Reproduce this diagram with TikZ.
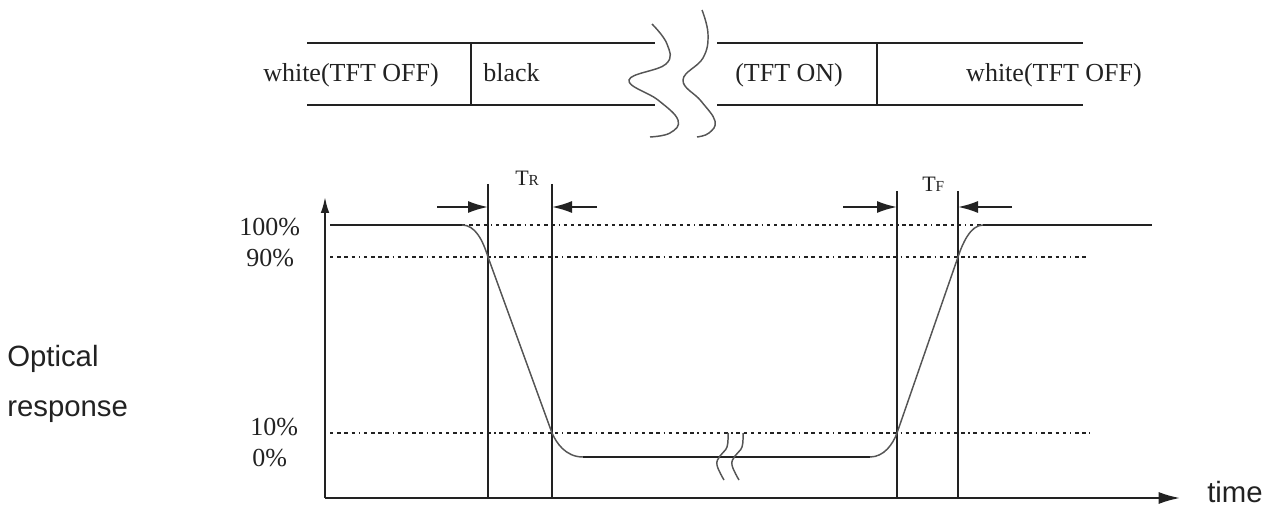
\documentclass[tikz,border=0pt]{standalone}
\usepackage{fontspec}
\setmainfont{Liberation Serif}
\newfontfamily\arialf{Liberation Sans}
\usetikzlibrary{arrows.meta}
\definecolor{ink}{HTML}{222222}
\definecolor{crv}{HTML}{555555}
\tikzset{
  lbl/.style={inner sep=0pt, text=ink, font=\fontsize{19.5pt}{22pt}\selectfont},
  slbl/.style={inner sep=0pt, text=ink, font=\arialf\fontsize{22pt}{25pt}\selectfont},
  bar/.style={draw=ink, line width=1.4pt},
  curve/.style={draw=crv, line width=1.1pt},
  lvl/.style={draw=ink, line width=1.3pt, dash pattern=on 2.6pt off 2.8pt on 2.6pt off 2.8pt on 2.6pt off 2.8pt on 2.6pt off 2.8pt on 1pt off 2.8pt},
  wavy/.style={draw=crv, line width=1.1pt},
  span/.style={draw=ink, line width=1.4pt, -{Latex[length=15pt,width=9pt]}},
}
\begin{document}
\begin{tikzpicture}[x=0.75pt, y=-0.75pt]
\useasboundingbox (0,0) rectangle (1275,506);
% ---------- top state bar ----------
\draw[bar] (307,43) -- (655,43);
\draw[bar] (307,105) -- (655,105);
\draw[bar] (717,43) -- (1083,43);
\draw[bar] (717,105) -- (1083,105);
\draw[bar] (471,43) -- (471,105);
\draw[bar] (877,43) -- (877,105);
\draw[wavy] plot[smooth, tension=0.7] coordinates {(652,24) (667,44) (666,64) (629,80) (658,100) (678,120) (670,133) (650,137)};
\draw[wavy] plot[smooth, tension=0.7] coordinates {(702,10) (708,34) (703,58) (683,80) (701,101) (715,121) (709,133) (697,137)};
\node[lbl, anchor=base west] (woff1) at (263,82) {white(TFT OFF)};
\node[lbl, anchor=base west] (blk) at (483,82) {black};
\node[lbl, anchor=base west] (ton) at (735,82) {(TFT ON)};
\node[lbl, anchor=base east] (woff2) at (1142,82) {white(TFT OFF)};
% ---------- axes ----------
\coordinate (O) at (325,498);
\coordinate (Ytop) at (325,197);
\coordinate (Xend) at (1180,498);
\draw[bar, -{Latex[length=12pt,width=6.5pt]}] (O) -- (Ytop);
\draw[bar, -{Latex[length=16pt,width=9pt]}] (O) -- (Xend);
\node[slbl, anchor=base west] (time) at (1207,502) {time};
\node[slbl, anchor=base west] (opt) at (7,366) {Optical};
\node[slbl, anchor=base west] (resp) at (7,416) {response};
% ---------- level labels ----------
\node[lbl, anchor=base west] (p100) at (239,235) {100\%};
\node[lbl, anchor=base west] (p90) at (246,267) {90\%};
\node[lbl, anchor=base west] (p10) at (250,435) {10\%};
\node[lbl, anchor=base west] (p0) at (252,466) {0\%};
% ---------- level lines ----------
\draw[lvl] (462,225) -- (983,225);
\draw[lvl] (330,257) -- (1088,257);
\draw[lvl] (330,433) -- (1090,433);
% ---------- time markers ----------
\coordinate (r1t) at (488,184); \coordinate (r1b) at (488,498);
\coordinate (r2t) at (552,184); \coordinate (r2b) at (552,498);
\coordinate (f1t) at (897,191); \coordinate (f1b) at (897,498);
\coordinate (f2t) at (958,191); \coordinate (f2b) at (958,498);
\draw[bar] (r1t) -- (r1b);
\draw[bar] (r2t) -- (r2b);
\draw[bar] (f1t) -- (f1b);
\draw[bar] (f2t) -- (f2b);
\coordinate (ra) at (437,207); \coordinate (rb) at (597,207);
\coordinate (fa) at (843,207); \coordinate (fb) at (1012,207);
\draw[span] (ra) -- (488,207);
\draw[span] (rb) -- (552,207);
\draw[span] (fa) -- (897,207);
\draw[span] (fb) -- (958,207);
\node[inner sep=0pt, text=ink, anchor=base west] (tr) at (515,186) {\fontsize{16.5pt}{18pt}\selectfont T\fontsize{11.5pt}{13pt}\selectfont R};
\node[inner sep=0pt, text=ink, anchor=base west] (tf) at (922,192) {\fontsize{16.5pt}{18pt}\selectfont T\fontsize{11.5pt}{13pt}\selectfont F};
% ---------- response curve ----------
\draw[bar] (330,225) -- (462,225);
\draw[curve] (462,225) .. controls (475,225) and (482.5,239.5) .. (488,257)
  -- (552,433) .. controls (556,442) and (565,457) .. (583,457);
\draw[bar] (583,457) -- (870,457);
\draw[curve] (870,457) .. controls (884,457) and (893,444) .. (897,433)
  -- (958,257) .. controls (962,245) and (970,225) .. (983,225);
\draw[bar] (983,225) -- (1152,225);
% ---------- break marks ----------
\draw[wavy] plot[smooth, tension=0.7] coordinates {(728,433) (727,447) (720,456) (717,465) (724,480)};
\draw[wavy] plot[smooth, tension=0.7] coordinates {(743,433) (742,447) (735,456) (732,465) (739,480)};
\end{tikzpicture}
\end{document}
